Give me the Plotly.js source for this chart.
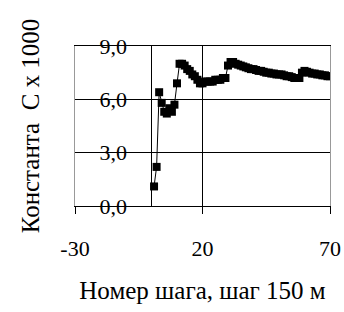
<!DOCTYPE html>
<html>
<head>
<meta charset="utf-8">
<script src="https://cdn.plot.ly/plotly-3.0.1.min.js"></script>
<style>html,body{margin:0;padding:0;background:#fff;}#chart{width:344px;height:312px;}</style>
</head>
<body>
<div id="chart"></div>
<script>
// Step numbers (x) and constant C x 1000 (y)
const steps = [1,2,3,4,5,6,7,8,9,10,11,12,13,14,15,16,17,18,19,20,21,22,23,24,25,26,27,28,29,30,31,32,33,34,35,36,37,38,39,40,41,42,43,44,45,46,47,48,49,50,51,52,53,54,55,56,57,58,59,60,61,62,63,64,65,66,67,68,69,70];
const constC = [1.1,2.2,6.4,5.8,5.3,5.2,5.5,5.3,5.7,6.9,8.0,8.0,7.9,7.7,7.6,7.4,7.3,7.1,6.9,6.9,
  7.0,7.0,7.0,7.0,7.1,7.1,7.1,7.2,7.2,7.9,8.1,8.1,8.0,7.95,7.9,7.85,7.8,7.75,7.7,7.7,
  7.65,7.6,7.6,7.55,7.5,7.5,7.45,7.45,7.4,7.4,7.4,7.35,7.3,7.3,7.25,7.2,7.2,7.2,7.5,7.6,
  7.55,7.5,7.45,7.45,7.4,7.4,7.35,7.35,7.3,7.3];
const xTicks = [-30, 20, 70];
const xTickText = ['-30', '20', '70'];
const yTicks = [0, 3, 6, 9];
const yTickText = ['0,0', '3,0', '6,0', '9,0'];
const xTitle = 'Номер шага, шаг 150 м';
const yTitle = 'Константа  С х 1000';

const font = 'Liberation Serif, Times New Roman, serif';

const trace = {
  x: steps, y: constC, type: 'scatter', mode: 'lines+markers',
  line: {color: '#000', width: 1},
  marker: {symbol: 'square', size: 8, color: '#000'},
  hoverinfo: 'skip', showlegend: false
};

const layout = {
  width: 344, height: 312,
  margin: {l: 75, r: 14, t: 46, b: 106},
  paper_bgcolor: '#fff', plot_bgcolor: '#fff',
  font: {family: font, color: '#000', size: 22},
  xaxis: {
    range: [-30, 70], tickvals: xTicks, ticktext: xTickText,
    showgrid: true, gridcolor: '#000', gridwidth: 1,
    zeroline: true, zerolinecolor: '#000', zerolinewidth: 1.5,
    ticks: 'outside', ticklen: 7, tickcolor: '#000', tickwidth: 1,
    ticklabelstandoff: 16, ticklabeloverflow: 'allow',
    showline: true, linecolor: '#000', linewidth: 1, mirror: true,
    tickfont: {family: font, size: 22, color: '#000'},
    title: {text: xTitle, font: {family: font, size: 25, color: '#000'}, standoff: 21},
    fixedrange: true
  },
  yaxis: {
    range: [0, 9], tickvals: yTicks, ticktext: yTickText,
    showgrid: true, gridcolor: '#000', gridwidth: 1,
    zeroline: false,
    ticks: '', ticklabelposition: 'inside', ticklabelstandoff: 26, ticklabeloverflow: 'allow',
    showline: true, linecolor: '#999', linewidth: 1, mirror: true,
    tickfont: {family: font, size: 22, color: '#000'},
    title: {text: yTitle, font: {family: font, size: 25, color: '#000'}, standoff: 52},
    fixedrange: true
  }
};

Plotly.newPlot('chart', [trace], layout, {staticPlot: true, displayModeBar: false});
</script>
</body>
</html>
